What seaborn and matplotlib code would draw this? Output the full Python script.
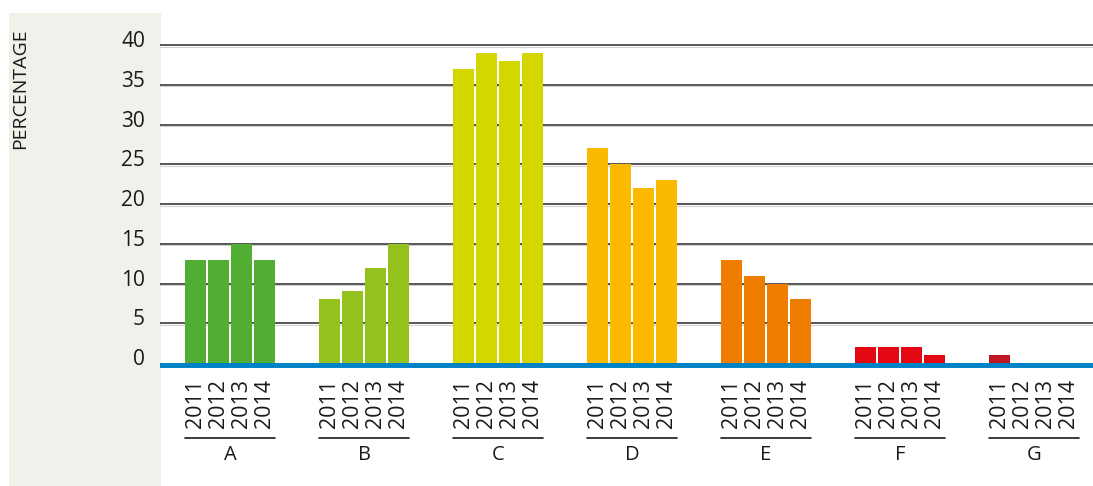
import numpy as np
import pandas as pd
import matplotlib
matplotlib.use("Agg")
import matplotlib.pyplot as plt
import matplotlib.transforms as mtransforms
from matplotlib.patches import Rectangle
import seaborn as sns

categories = ["A", "B", "C", "D", "E", "F", "G"]
years = ["2011", "2012", "2013", "2014"]
values_2011 = [13, 8, 37, 27, 13, 2, 1]
values_2012 = [13, 9, 39, 25, 11, 2, 0]
values_2013 = [15, 12, 38, 22, 10, 2, 0]
values_2014 = [13, 15, 39, 23, 8, 1, 0]
category_colors = ["#52AE32", "#95C11F", "#D4D600", "#FBBA00", "#EF7D00", "#E30613", "#BE1622"]
y_ticks = [0, 5, 10, 15, 20, 25, 30, 35, 40]
y_label = "PERCENTAGE"

sns.set_theme(style="white")
plt.rcParams["font.family"] = ["Open Sans", "DejaVu Sans"]

rows = []
for yr, vals in zip(years, [values_2011, values_2012, values_2013, values_2014]):
    for c, v in zip(categories, vals):
        rows.append({"cat": c, "year": yr, "val": v})
df = pd.DataFrame(rows)

W, H = 1093, 486
fig = plt.figure(figsize=(W / 100, H / 100), dpi=100)
fig.patch.set_facecolor("white")

# beige side panel
fig.patches.append(Rectangle((9 / W, 0), 152 / W, (H - 13) / H, transform=fig.transFigure,
                             facecolor="#F1F0EA", edgecolor="none", zorder=-1))

ax = fig.add_axes([160 / W, 0.2424, (W - 160) / W, 0.6895])
ax.set_facecolor("none")

sns.barplot(data=df, x="cat", y="val", hue="year", order=categories, hue_order=years,
            width=0.694, gap=0.09, dodge=True, legend=False, ax=ax, saturation=1,
            palette=["#000000"] * 4, zorder=3)

for cont in ax.containers:
    for i, bar in enumerate(cont):
        bar.set_facecolor(category_colors[i])
        bar.set_edgecolor("none")

ax.set_xlim(-0.5224, 6.440)
ax.set_ylim(-0.65, 41.5)
for s in ax.spines.values():
    s.set_visible(False)

# gridlines
gtrans = mtransforms.blended_transform_factory(ax.transAxes, ax.transData)
shadow = gtrans + mtransforms.ScaledTranslation(0, -1.5 / 100, fig.dpi_scale_trans)
for t in y_ticks[1:]:
    ax.plot([0, 1], [t, t], color="#2a2a2a", lw=1.1, zorder=1, transform=gtrans)
    ax.plot([0, 1], [t, t], color="#d0d0d0", lw=0.8, zorder=0.9, transform=shadow)
# baseline
ax.axhspan(-0.65, 0, color="#0082C6", lw=0, zorder=4)
ax.axhline(-0.6, color="#8CC8EA", lw=0.8, zorder=4.5)

# y tick labels (shifted slightly above their gridlines)
ax.set_yticks([])
ax.set_xticks([])
ax.set_xlabel("")
ax.set_ylabel("")
lab_trans = gtrans + mtransforms.ScaledTranslation(-15 / 100, 3.5 / 100, fig.dpi_scale_trans)
for t in y_ticks:
    ax.text(0, t, str(t), ha="right", va="center", fontsize=15, color="#1a1a1a",
            transform=lab_trans, clip_on=False)

fig.text(20 / W, (H - 89) / H, y_label, rotation=90, ha="center", va="center",
         fontsize=14, color="#1a1a1a")

# year labels, underline and group letters
blend = mtransforms.blended_transform_factory(ax.transData, fig.transFigure)
for i, c in enumerate(categories):
    xs = []
    for j, cont in enumerate(ax.containers):
        bar = cont[i]
        xc = bar.get_x() + bar.get_width() / 2
        xs.append((bar.get_x(), bar.get_x() + bar.get_width()))
        ax.text(xc, (H - 428) / H, years[j], rotation=90, ha="center", va="bottom",
                fontsize=15.5, color="#1a1a1a", transform=blend, clip_on=False)
    x0 = xs[0][0]
    x1 = xs[-1][1]
    ax.plot([x0, x1], [(H - 437.5) / H] * 2, color="#1a1a1a", lw=1.2,
            transform=blend, clip_on=False)
    ax.text((x0 + x1) / 2, (H - 455) / H, c, ha="center", va="center",
            fontsize=14.5, color="#1a1a1a", transform=blend, clip_on=False)

fig.savefig("out.png", dpi=100)
